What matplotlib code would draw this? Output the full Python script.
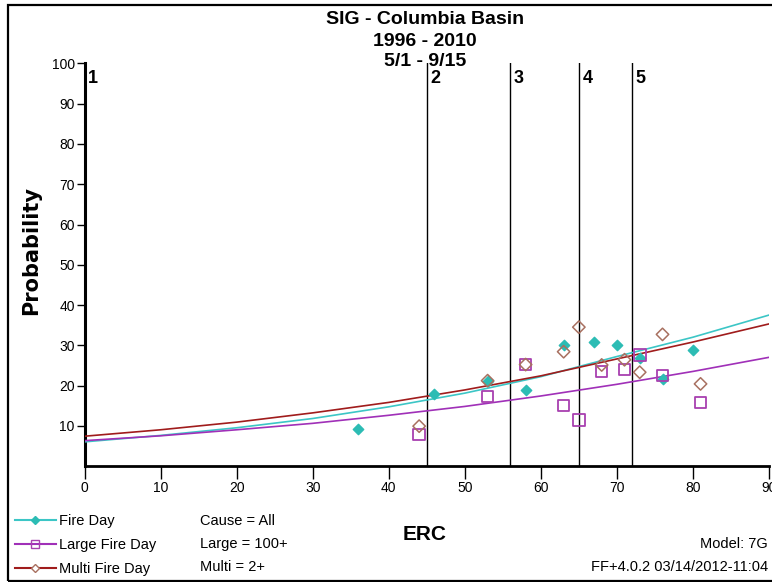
import matplotlib
matplotlib.use("Agg")
import matplotlib.pyplot as plt
from matplotlib.lines import Line2D
from matplotlib.patches import Rectangle

plt.rcParams['font.family'] = ['Liberation Sans', 'DejaVu Sans']

# observed probabilities by ERC
fire_erc = [36, 46, 53, 58, 63, 67, 70, 73, 76, 80]
fire_prob = [9.2, 17.9, 21.2, 19.0, 30.1, 30.9, 30.1, 26.8, 21.5, 28.9]

large_erc = [44, 53, 58, 63, 65, 68, 71, 73, 76, 81]
large_prob = [7.8, 17.3, 25.2, 15.0, 11.4, 23.5, 24.0, 27.6, 22.5, 15.8]

multi_erc = [44, 53, 58, 63, 65, 68, 71, 73, 76, 81]
multi_prob = [9.9, 21.2, 25.2, 28.4, 34.5, 25.1, 26.4, 23.3, 32.7, 20.4]

# fitted model curves
curve_erc = [0, 10, 20, 30, 40, 50, 60, 70, 80, 90]
fire_fit = [6.0, 7.6, 9.5, 11.8, 14.7, 18.1, 22.2, 27.2, 32.0, 37.5]
large_fit = [6.3, 7.5, 9.0, 10.6, 12.6, 14.8, 17.4, 20.3, 23.5, 27.0]
multi_fit = [7.4, 9.0, 10.9, 13.2, 15.8, 18.9, 22.4, 26.6, 30.8, 35.3]

# fire danger class breakpoints
class_breaks = [0, 45, 56, 65, 72]
class_labels = ['1', '2', '3', '4', '5']

x_ticks = [0, 10, 20, 30, 40, 50, 60, 70, 80, 90]
y_ticks = [10, 20, 30, 40, 50, 60, 70, 80, 90, 100]

title_lines = ['SIG - Columbia Basin', '1996 - 2010', '5/1 - 9/15']

teal = '#2cbcb4'
teal_line = '#3cc6c6'
purple = '#a840b0'
purple_line = '#a030b8'
brown = '#a87060'
red_line = '#a01c1c'

W, H = 772, 582


def px(x, y):
    # pixel position (from top-left) -> figure fraction
    return x / W, 1 - y / H


fig = plt.figure(figsize=(W / 100, H / 100), dpi=100)
ax = fig.add_axes([0.1095, 0.1993, 0.8866, 0.6916])

ax.plot(curve_erc, fire_fit, color=teal_line, lw=1.2, zorder=3)
ax.plot(curve_erc, large_fit, color=purple_line, lw=1.2, zorder=3)
ax.plot(curve_erc, multi_fit, color=red_line, lw=1.2, zorder=3)

ax.scatter(fire_erc, fire_prob, marker='D', s=28, color=teal, zorder=4)
ax.scatter(large_erc, large_prob, marker='s', s=70, facecolor='none',
           edgecolor=purple, linewidth=1.3, zorder=5)
ax.scatter(multi_erc, multi_prob, marker='D', s=40, facecolor='none',
           edgecolor=brown, linewidth=1.1, zorder=5)

for xb, lab in zip(class_breaks, class_labels):
    if xb > 0:
        ax.axvline(xb, color='black', lw=1.0, zorder=2)
    ax.text(xb + 0.45, 98.5, lab, fontsize=13, fontweight='bold',
            ha='left', va='top')

ax.set_xlim(0, 90)
ax.set_ylim(0, 100)
ax.set_xticks(x_ticks)
ax.set_yticks(y_ticks)
ax.tick_params(axis='x', length=9, width=1, pad=2, labelsize=10, colors='black')
ax.tick_params(axis='y', length=6, width=1, pad=1, labelsize=10, colors='black')
for side in ['top', 'right']:
    ax.spines[side].set_visible(False)
ax.spines['left'].set_linewidth(2.2)
ax.spines['bottom'].set_linewidth(2.0)

ax.set_ylabel('Probability', fontsize=15, fontweight='bold',
              family=['DejaVu Sans'])
ax.yaxis.set_label_coords(-0.064, 0.535)

for line, base in zip(title_lines, [24, 46, 66]):
    fig.text(*px(425, base), line, ha='center', va='baseline',
             fontsize=14, fontweight='bold')

fig.text(*px(425, 535), 'ERC', ha='center', va='center',
         fontsize=15, fontweight='bold')

handles = [
    Line2D([], [], color=teal_line, marker='D', markersize=4,
           markerfacecolor=teal, markeredgecolor=teal),
    Line2D([], [], color=purple_line, marker='s', markersize=6,
           markerfacecolor='none', markeredgecolor=purple),
    Line2D([], [], color=red_line, marker='D', markersize=4.5,
           markerfacecolor='white', markeredgecolor=brown),
]
fig.legend(handles, ['Fire Day', 'Large Fire Day', 'Multi Fire Day'],
           loc='upper left', bbox_to_anchor=px(15, 514),
           frameon=False, fontsize=10.5, handlelength=2.8, handletextpad=0.25,
           labelspacing=0.68, borderpad=0, borderaxespad=0)

for i, note in enumerate(['Cause = All', 'Large = 100+', 'Multi = 2+']):
    fig.text(*px(200, 521 + 23 * i), note, ha='left', va='center',
             fontsize=10.5)

fig.text(*px(768, 544), 'Model: 7G', ha='right', va='center', fontsize=10.5)
fig.text(*px(768, 567), 'FF+4.0.2 03/14/2012-11:04', ha='right',
         va='center', fontsize=10.5)

# outer frame
fig.patches.append(Rectangle(px(8, 581), 1.0, (581 - 5) / H,
                             transform=fig.transFigure, fill=False,
                             edgecolor='black', linewidth=1.6))

fig.savefig('out.png', dpi=100)
